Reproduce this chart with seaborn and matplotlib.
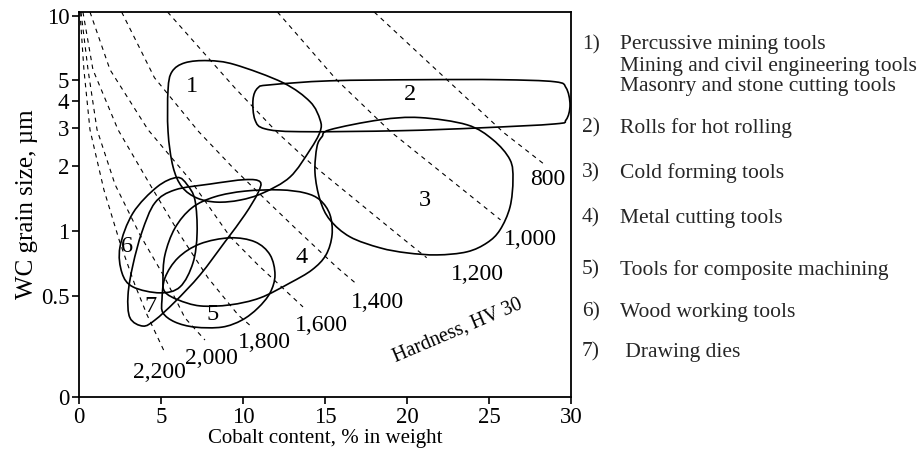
import numpy as np
import pandas as pd
import matplotlib
matplotlib.use("Agg")
import matplotlib.pyplot as plt
from matplotlib.path import Path
from matplotlib.patches import PathPatch
import seaborn as sns

# ── Hardness (HV 30) iso-lines: cobalt %, grain size um ──
hv_labels = ["800", "1,000", "1,200", "1,400", "1,600", "1,800", "2,000", "2,200"]
hv800_x = [18.0, 25.9, 28.4]
hv800_y = [10.4, 2.86, 2.03]
hv1000_x = [12.1, 15.7, 19.0, 25.7]
hv1000_y = [10.4, 5.04, 2.89, 1.125]
hv1200_x = [5.4, 9.5, 12.1, 14.1, 19.6, 21.2]
hv1200_y = [10.4, 4.62, 2.86, 2.07, 0.94, 0.75]
hv1400_x = [2.6, 4.6, 7.3, 9.4, 11.2, 13.3, 15.7, 17.0]
hv1400_y = [10.4, 5.15, 2.89, 1.96, 1.44, 1.01, 0.68, 0.56]
hv1600_x = [0.67, 1.89, 4.21, 6.77, 9.21, 10.91, 13.66]
hv1600_y = [10.4, 5.61, 2.95, 1.73, 0.94, 0.695, 0.443]
hv1800_x = [0.24, 0.85, 2.38, 4.33, 6.16, 7.87, 9.70, 10.55]
hv1800_y = [10.4, 5.61, 2.95, 1.64, 0.958, 0.604, 0.407, 0.357]
hv2000_x = [0.12, 0.55, 1.10, 2.2, 3.72, 5.24, 6.46, 7.68]
hv2000_y = [10.4, 5.61, 2.95, 1.64, 0.958, 0.604, 0.394, 0.311]
hv2200_x = [0.06, 0.30, 0.67, 1.52, 2.5, 3.41, 4.15, 5.24]
hv2200_y = [10.4, 5.61, 2.95, 1.55, 0.88, 0.561, 0.407, 0.271]
# label anchor for each iso-line
hv_lab_x = [28.6, 27.5, 24.3, 18.2, 14.8, 11.3, 8.1, 4.9]
hv_lab_y = [1.73, 0.908, 0.624, 0.467, 0.365, 0.302, 0.256, 0.219]

# ── Application fields (outlines) ──
f1_x = [5.43, 5.67, 6.46, 7.87, 9.51, 12.44, 14.09, 14.70, 14.70, 14.09, 12.87, 11.22, 9.82, 8.41, 7.20, 6.28, 5.73, 5.43]
f1_y = [4.53, 5.49, 6.04, 6.18, 5.92, 4.88, 3.98, 3.28, 2.89, 2.38, 1.78, 1.50, 1.39, 1.36, 1.42, 1.60, 1.99, 2.89]
f2_x = [10.61, 10.91, 11.65, 15.30, 20.79, 25.67, 29.02, 29.70, 29.94, 29.70, 29.02, 24.45, 19.57, 13.48, 11.34, 10.73]
f2_y = [4.07, 4.62, 4.77, 4.98, 5.04, 5.04, 4.93, 4.62, 3.85, 3.28, 3.14, 3.01, 2.92, 2.89, 2.98, 3.28]
f3_x = [15.30, 18.35, 20.79, 23.66, 25.24, 26.28, 26.46, 26.28, 25.67, 24.88, 23.66, 21.83, 20.0, 18.35, 16.52, 15.30, 14.70, 14.39, 14.51, 14.82]
f3_y = [2.95, 3.28, 3.36, 3.11, 2.65, 2.14, 1.73, 1.29, 1.01, 0.880, 0.799, 0.773, 0.790, 0.834, 0.938, 1.125, 1.39, 1.86, 2.46, 2.74]
f4_x = [5.12, 5.24, 5.85, 6.89, 8.29, 10.12, 12.26, 13.78, 14.70, 15.30, 15.43, 15.06, 14.21, 12.87, 11.04, 9.21, 7.38, 6.04, 5.24]
f4_y = [0.591, 0.773, 1.03, 1.28, 1.44, 1.53, 1.55, 1.50, 1.39, 1.19, 0.958, 0.773, 0.659, 0.573, 0.488, 0.453, 0.448, 0.478, 0.520]
f5_x = [5.06, 5.24, 6.04, 7.38, 9.21, 10.73, 11.65, 11.95, 11.65, 10.91, 9.94, 8.72, 7.07, 5.85, 5.12]
f5_y = [0.478, 0.604, 0.749, 0.870, 0.928, 0.889, 0.773, 0.624, 0.515, 0.438, 0.385, 0.357, 0.357, 0.377, 0.416]
f6_x = [5.98, 4.76, 3.29, 2.50, 2.62, 3.29, 4.94, 6.16, 6.95, 7.20, 7.07, 6.59]
f6_y = [1.77, 1.60, 1.21, 0.842, 0.638, 0.549, 0.515, 0.549, 0.710, 0.979, 1.39, 1.64]
f7_x = [3.11, 2.99, 3.29, 3.84, 4.63, 5.85, 7.99, 10.12, 11.04, 10.91, 10.12, 8.90, 7.38, 5.85, 4.63, 3.90]
f7_y = [0.394, 0.504, 0.695, 0.989, 1.35, 1.55, 1.65, 1.73, 1.69, 1.50, 1.19, 0.889, 0.624, 0.468, 0.385, 0.361]
field_ids = ["1", "2", "3", "4", "5", "6", "7"]
field_lab_x = [6.89, 20.18, 21.1, 13.6, 8.17, 2.93, 4.33]
field_lab_y = [4.67, 4.29, 1.39, 0.749, 0.407, 0.842, 0.443]

legend_nums = ["1)", "2)", "3)", "4)", "5)", "6)", "7)"]
legend_text = [
    ["Percussive mining tools", "Mining and civil engineering tools", "Masonry and stone cutting tools"],
    ["Rolls for hot rolling"],
    ["Cold forming tools"],
    ["Metal cutting tools"],
    ["Tools for composite machining"],
    ["Wood working tools"],
    [" Drawing dies"],
]

x_ticks = [0, 5, 10, 15, 20, 25, 30]
y_ticks = [0.169, 0.5, 1, 2, 3, 4, 5, 10]
y_tick_labels = ["0", "0.5", "1", "2", "3", "4", "5", "10"]


def smooth_outline(xs, ys):
    # closed Catmull-Rom outline, built in (x, log y) space
    p = np.column_stack([xs, np.log10(ys)])
    n = len(p)
    verts = [p[0]]
    codes = [Path.MOVETO]
    for i in range(n):
        p0, p1, p2, p3 = p[i - 1], p[i], p[(i + 1) % n], p[(i + 2) % n]
        verts += [p1 + (p2 - p0) / 6, p2 - (p3 - p1) / 6, p2]
        codes += [Path.CURVE4] * 3
    verts = np.array(verts)
    verts[:, 1] = 10 ** verts[:, 1]
    return Path(verts, codes)


sns.set_theme(style="ticks")
plt.rcParams["font.family"] = ["Liberation Serif", "DejaVu Serif"]

fig = plt.figure(figsize=(9.21, 4.61), dpi=100)
ax = fig.add_axes([79 / 921, 1 - 397 / 461, 492 / 921, 385 / 461])

# ── Hardness lines ──
hv_x = [hv800_x, hv1000_x, hv1200_x, hv1400_x, hv1600_x, hv1800_x, hv2000_x, hv2200_x]
hv_y = [hv800_y, hv1000_y, hv1200_y, hv1400_y, hv1600_y, hv1800_y, hv2000_y, hv2200_y]
for lab, xs, ys, lx, ly in zip(hv_labels, hv_x, hv_y, hv_lab_x, hv_lab_y):
    df = pd.DataFrame({"co": xs, "d": ys})
    sns.lineplot(data=df, x="co", y="d", sort=False, estimator=None, ax=ax,
                 color="black", lw=0.8, linestyle=(0, (4, 4)))
    ax.text(lx, ly, lab, ha="center", va="center", fontsize=17, color="black")

ax.text(23.1, 0.343, "Hardness, HV 30", rotation=23, ha="center", va="center",
        fontsize=14.5, color="black")

# ── Application fields ──
fields = [(f1_x, f1_y), (f2_x, f2_y), (f3_x, f3_y), (f4_x, f4_y),
          (f5_x, f5_y), (f6_x, f6_y), (f7_x, f7_y)]
for (xs, ys), fid, lx, ly in zip(fields, field_ids, field_lab_x, field_lab_y):
    ax.add_patch(PathPatch(smooth_outline(xs, ys), fill=False, ec="black", lw=1.2))
    ax.text(lx, ly, fid, ha="center", va="center", fontsize=17.5, color="black")

ax.set_yscale("log")
ax.set_xlim(0, 30)
ax.set_ylim(0.169, 10.4)
ax.set_xticks(x_ticks)
ax.set_xticklabels([str(t) for t in x_ticks])
ax.set_yticks(y_ticks)
ax.set_yticklabels(y_tick_labels)
ax.yaxis.set_minor_locator(matplotlib.ticker.NullLocator())
ax.tick_params(axis="both", direction="out", length=5, width=1.2, colors="black",
               labelsize=16.5, pad=2)
for s in ax.spines.values():
    s.set_color("black")
    s.set_linewidth(1.3)
ax.set_xlabel("Cobalt content, % in weight", fontsize=15, color="black", labelpad=1)
ax.set_ylabel("WC grain size, µm", fontsize=18, color="black", labelpad=2)

# ── Right-hand key ──
key_y = [45, 128, 173, 218, 270, 312, 352]
for num, lines, py in zip(legend_nums, legend_text, key_y):
    fig.text(582 / 921, 1 - py / 461, num, fontsize=15.5, va="center", ha="left")
    for j, line in enumerate(lines):
        fig.text(620 / 921, 1 - (py + 21 * j) / 461, line, fontsize=15.5,
                 va="center", ha="left")

fig.savefig("out.png", dpi=100, facecolor="white")
